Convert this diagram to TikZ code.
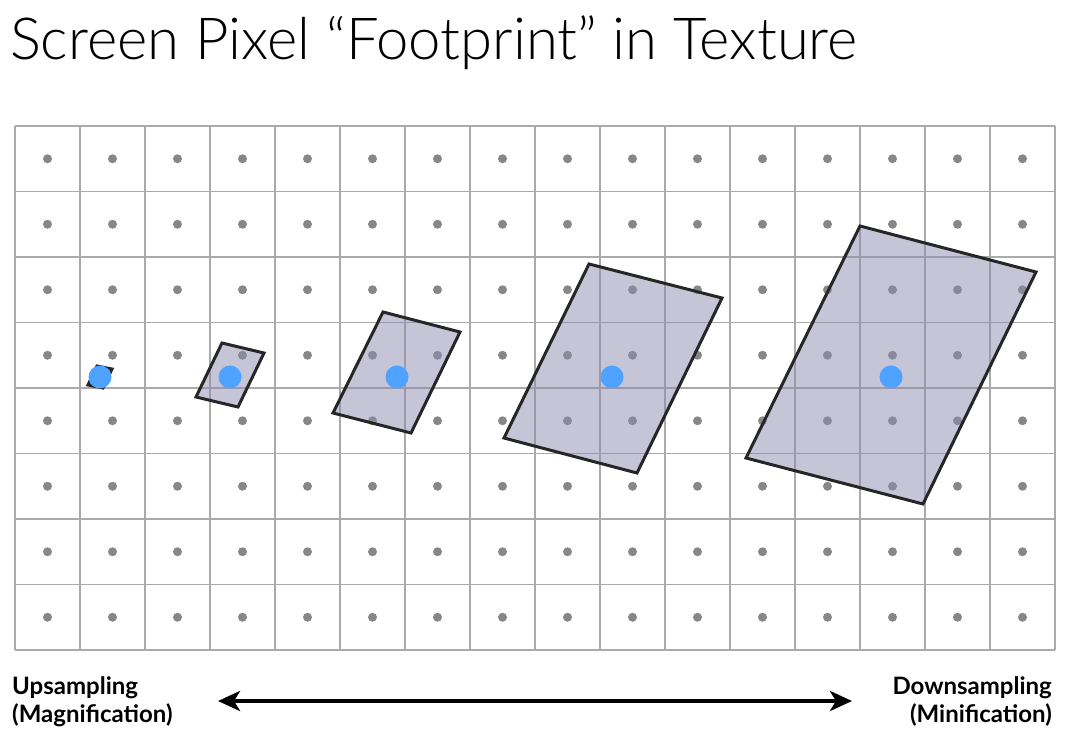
\documentclass[tikz,border=0pt]{standalone}
\usepackage{fontspec}
\setmainfont{Lato}
\newfontfamily\titlefont{Lato Light}
\usetikzlibrary{arrows.meta}
\definecolor{gridgray}{RGB}{170,170,170}
\definecolor{dotgray}{RGB}{135,135,135}
\definecolor{pixblue}{RGB}{77,163,255}
\definecolor{footfill}{RGB}{140,140,175}

\begin{document}
\begin{tikzpicture}[x=1pt, y=-1pt,
  gridline/.style={draw=gridgray, line width=1.5pt},
  texel/.style={circle, fill=dotgray, inner sep=0pt, minimum size=9pt},
  footprint/.style={draw=black!85, line width=3pt, fill=footfill, fill opacity=0.5},
  pixdot/.style={circle, fill=pixblue, inner sep=0pt, minimum size=23pt},
  sidetext/.style={font=\bfseries\fontsize{24}{28}\selectfont, inner sep=0pt}]
\useasboundingbox (0,0) rectangle (1065,733);
\node[anchor=base west, inner sep=0pt, font=\titlefont\fontsize{58}{66}\selectfont] (title) at (10,60) {Screen Pixel “Footprint” in Texture};
% texture grid
\foreach \i in {0,...,16} \draw[gridline] (15+65*\i,126) -- (15+65*\i,650);
\foreach \j in {0,...,8} \draw[gridline] (15,126+65.5*\j) -- (1055,126+65.5*\j);
\foreach \i in {0,...,15} \foreach \j in {0,...,7}
  \node[texel] (t-\i-\j) at (47.5+65*\i,158.75+65.5*\j) {};
% footprints, small to large
\filldraw[footprint] (97,366) -- (112,369) -- (103,388) -- (88,385) -- cycle;
\filldraw[footprint] (222,343) -- (264,353) -- (238,407) -- (196,397) -- cycle;
\filldraw[footprint] (383,312) -- (460,332) -- (411,433) -- (333,413) -- cycle;
\filldraw[footprint] (589,264) -- (722,298) -- (637,473) -- (504,438) -- cycle;
\filldraw[footprint] (860,226) -- (1036,272) -- (923,504) -- (746,458) -- cycle;
\node[pixdot] (p1) at (100,377) {};
\node[pixdot] (p2) at (230,377) {};
\node[pixdot] (p3) at (397,377) {};
\node[pixdot] (p4) at (612,377) {};
\node[pixdot] (p5) at (891,377) {};
% scale arrow
\node[sidetext, anchor=base west] (up) at (12,694) {Upsampling};
\node[sidetext, anchor=base west] (mag) at (12,722) {(Magnification)};
\node[sidetext, anchor=base east] (down) at (1052,694) {Downsampling};
\node[sidetext, anchor=base east] (mini) at (1052,722) {(Minification)};
\coordinate (al) at (218,701);
\coordinate (ar) at (852,701);
\draw[line width=4pt, {Stealth[length=22pt,width=20pt,inset=6pt]}-{Stealth[length=22pt,width=20pt,inset=6pt]}] (al) -- (ar);
\end{tikzpicture}
\end{document}
